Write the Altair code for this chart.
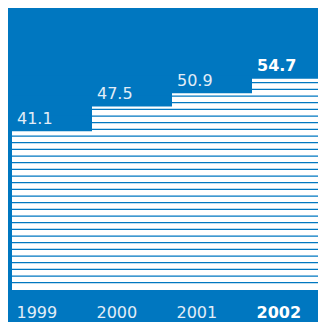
import altair as alt
import pandas as pd

# ---- data ----
years = ["1999", "2000", "2001", "2002"]
eps = [41.1, 47.5, 50.9, 54.7]
title_main = "Adjusted earnings per share"
title_unit = "pence"

BLUE = "#0077c0"
LABEL = "#e2edf7"

df = pd.DataFrame({"year": years, "eps": eps})
df["label"] = df["eps"].map(lambda v: f"{v:.1f}")
df["bold"] = df["year"] == years[-1]

# decorative horizontal stripes (in value units, shared y scale)
stripe_start, stripe_step, n_stripes = 1.89, 1.7258, 33
stripes = pd.DataFrame({"s": [stripe_start + i * stripe_step for i in range(n_stripes)]})

yscale = alt.Scale(domain=[0, 73], nice=False, zero=True)
xscale = alt.Scale(domain=years, paddingInner=0, paddingOuter=0)

xaxis = alt.Axis(
    title=None,
    domain=False,
    ticks=False,
    tickSize=0,
    labelAngle=0,
    labelAlign="left",
    labelBaseline="alphabetic",
    labelPadding=27,
    labelOffset=-35.5,
    labelOverlap=False,
    labelFont="DejaVu Sans",
    labelFontSize=16,
    labelColor={"condition": {"test": "datum.label == '2002'", "value": "#ffffff"}, "value": LABEL},
    labelFontWeight={"condition": {"test": "datum.label == '2002'", "value": "bold"}, "value": "normal"},
    grid=False,
)

bars = alt.Chart(df).mark_bar(color="#ffffff", stroke=None).encode(
    x=alt.X("year:N", scale=xscale, axis=xaxis, sort=years),
    y=alt.Y("eps:Q", scale=yscale, axis=None),
)

lines = alt.Chart(stripes).mark_rule(color=BLUE, strokeWidth=1.3).encode(
    y=alt.Y("s:Q", scale=yscale, axis=None),
    x=alt.value(0),
    x2=alt.value(320),
)

labels_reg = alt.Chart(df).transform_filter("!datum.bold").mark_text(
    align="left", baseline="alphabetic", dx=5, dy=-7.5,
    font="DejaVu Sans", fontSize=16, color=LABEL,
).encode(
    x=alt.X("year:N", scale=xscale, axis=xaxis, sort=years, bandPosition=0),
    y=alt.Y("eps:Q", scale=yscale, axis=None),
    text="label:N",
)

labels_bold = alt.Chart(df).transform_filter("datum.bold").mark_text(
    align="left", baseline="alphabetic", dx=5, dy=-7.5,
    font="DejaVu Sans", fontSize=16, fontWeight="bold", color="#ffffff",
).encode(
    x=alt.X("year:N", scale=xscale, axis=xaxis, sort=years, bandPosition=0),
    y=alt.Y("eps:Q", scale=yscale, axis=None),
    text="label:N",
)

chart = alt.layer(bars, lines, labels_reg, labels_bold).properties(
    width=320,
    height=282,
    background=BLUE,
    padding={"left": 4, "top": 0, "right": -14, "bottom": 32},
    autosize=alt.AutoSizeParams(type="none"),
    title=alt.TitleParams(
        text=title_main + " " + title_unit,
        anchor="start",
        font="DejaVu Sans",
        fontSize=16,
        fontWeight="bold",
        color="#ffffff",
        offset=4,
    ),
).configure_view(stroke=None)

chart.save("out.html", embed_options={"renderer": "svg", "actions": False})
